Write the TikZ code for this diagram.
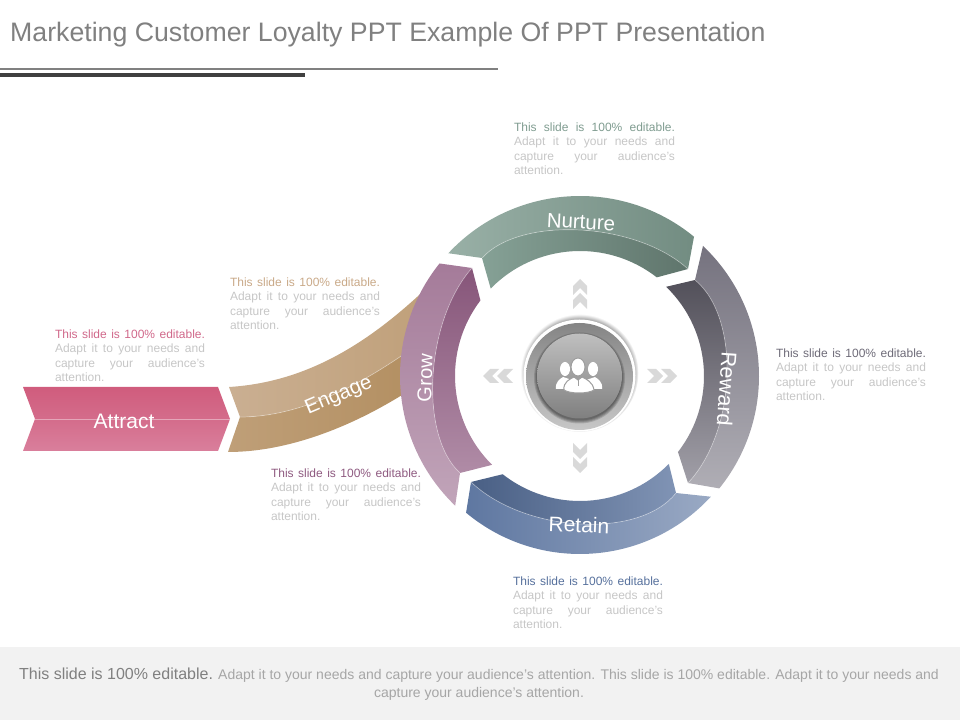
\documentclass[tikz,border=0pt]{standalone}
\usepackage{fontspec}
\setmainfont{Liberation Sans}
\usepackage{tikz}

\definecolor{titlegray}{HTML}{808080}
\definecolor{notegray}{HTML}{C6C6C6}
\definecolor{attractink}{HTML}{D0688A}
\definecolor{engageink}{HTML}{C9A988}
\definecolor{growink}{HTML}{8E5A80}
\definecolor{retainink}{HTML}{56709C}
\definecolor{rewardink}{HTML}{6E6B78}
\definecolor{nurtureink}{HTML}{7F9C90}
\definecolor{attracttop}{HTML}{D05C7D}
\definecolor{attractmid}{HTML}{D46C8B}
\definecolor{attractlow}{HTML}{D97F9C}
\definecolor{engagelight}{HTML}{CAAF92}
\definecolor{engagetan}{HTML}{BF9F78}
\definecolor{engagedark}{HTML}{B28E60}

\pgfdeclareradialshading{halo}{\pgfpoint{0bp}{0bp}}{color(0bp)=(black!55); color(21.5bp)=(black!55); color(25bp)=(white); color(50bp)=(white)}

\newcommand{\slidenote}[1]{{\color{#1}This slide is 100\% editable.} Adapt it to your needs and capture your audience's attention.}

\hyphenpenalty=10000
\tolerance=9999

\begin{document}
\begin{tikzpicture}[x=1pt, y=1pt,
                    note node/.style={inner sep=0pt, text width=150pt, align=justify, text=notegray, font=\fontsize{12}{14.5}\selectfont},
                    step label/.style={inner sep=0pt, text=white, font=\fontsize{20.5}{24}\selectfont},
                    seam line/.style={draw=white, draw opacity=0.4, line width=0.7pt}]

  \useasboundingbox (0,0) rectangle (960,720);

  \node[inner sep=0pt, anchor=base west, text=titlegray, font=\fontsize{26.7}{32}\selectfont] (title) at (10,678) {Marketing Customer Loyalty PPT Example Of PPT Presentation};
  \fill[titlegray] (0,650) rectangle (498,652);
  \fill[black!75] (0,643) rectangle (305,647);

  \fill[black!5] (0,0) rectangle (960,73);
  \node[inner sep=0pt, align=center, text=black!35, font=\fontsize{14}{18}\selectfont] (footer) at (479,36)
    {{\fontsize{16}{18}\selectfont\color{titlegray}This slide is 100\% editable.} Adapt it to your needs and capture your audience's attention. This slide is 100\% editable. Adapt it to your needs and\\capture your audience's attention.};

  % attract
  \path[top color=attracttop, bottom color=attractmid] (23,333) -- (218,333) -- (230,301) -- (35,301) -- cycle;
  \path[top color=attractmid, bottom color=attractlow] (35,301) -- (230,301) -- (218,269) -- (23,269) -- cycle;
  \draw[seam line] (35,301) -- (230,301);
  \node[step label, font=\fontsize{21}{24}\selectfont] (attract) at (124,299) {Attract};

  % engage
  \path[left color=engagelight, right color=engagetan] (229,333) .. controls (310,338) and (375,380) .. (440,445) -- (430,385) .. controls (365,335) and (300,303) .. (240,303) -- cycle;
  \path[left color=engagetan, right color=engagedark] (240,303) .. controls (300,303) and (365,335) .. (430,385) -- (425,340) .. controls (360,295) and (290,268) .. (228,268) -- cycle;
  \draw[seam line] (240,303) .. controls (300,303) and (365,335) .. (430,385);
  \node[step label, rotate=23] (engage) at (339,324) {Engage};

  \begin{scope}[shift={(580,344)}]
    % nurture
    \path[left color=nurtureink!80!white, right color=nurtureink!90!black] (137:180) arc[start angle=137, end angle=50.7, radius=180] -- (108,107) .. controls (56,154.1) and (-59.4,160.3) .. (-98,118) -- cycle;
    \path[left color=nurtureink!95!white, right color=nurtureink!75!black] (-98,118) .. controls (-59.4,160.3) and (56,154.1) .. (108,107) -- (52.1:125) arc[start angle=52.1, end angle=135.6, radius=125] -- cycle;
    \draw[seam line] (-98,118) .. controls (-59.4,160.3) and (56,154.1) .. (108,107);

    % reward
    \path[top color=rewardink!95!white, bottom color=rewardink!55!white] (46.6:179) arc[start angle=46.6, end angle=-38.9, radius=179] -- (108,-107) .. controls (156.8,-55) and (160.8,58.6) .. (115,96) -- cycle;
    \path[top color=rewardink!75!black, bottom color=rewardink!65!white] (115,96) .. controls (160.8,58.6) and (156.8,-55) .. (108,-107) -- (-37.8:124) arc[start angle=-37.8, end angle=46, radius=124] -- cycle;
    \draw[seam line] (115,96) .. controls (160.8,58.6) and (156.8,-55) .. (108,-107);

    % retain
    \path[left color=retainink!95!white, right color=retainink!60!white] (-42.7:178) arc[start angle=-42.7, end angle=-129.8, radius=178] -- (-109,-106) .. controls (-55.2,-157.1) and (59.6,-163.3) .. (96,-117) -- cycle;
    \path[left color=retainink!85!black, right color=retainink!75!white] (96,-117) .. controls (59.6,-163.3) and (-55.2,-157.1) .. (-109,-106) -- (-128.2:125) arc[start angle=-128.2, end angle=-44.7, radius=125] -- cycle;
    \draw[seam line] (96,-117) .. controls (59.6,-163.3) and (-55.2,-157.1) .. (-109,-106);

    % grow
    \path[top color=growink!80!white, bottom color=growink!55!white] (141.3:180) arc[start angle=141.3, end angle=226.1, radius=180] -- (-120,-97) .. controls (-161.4,-59.2) and (-154.6,55.6) .. (-108,108) -- cycle;
    \path[top color=growink!95!black, bottom color=growink!70!white] (-108,108) .. controls (-154.6,55.6) and (-161.4,-59.2) .. (-120,-97) -- (225.3:125) arc[start angle=225.3, end angle=142.8, radius=125] -- cycle;
    \draw[seam line] (-108,108) .. controls (-154.6,55.6) and (-161.4,-59.2) .. (-120,-97);

    \foreach \ang in {0,90,180,270}
      \foreach \off in {0,14}
        \fill[black!15, rotate=\ang, xshift=\off] (67,7) -- (76,7) -- (83,0) -- (76,-7) -- (67,-7) -- (74,0) -- cycle;
  \end{scope}

  \node[step label, rotate=-3] (nurture) at (581,498) {Nurture};
  \node[step label, rotate=-94, font=\fontsize{21.5}{24}\selectfont] (reward) at (727,331) {Reward};
  \node[step label, font=\fontsize{21}{24}\selectfont, rotate=-2] (retain) at (579,195) {Retain};
  \node[step label, rotate=88, font=\fontsize{20}{24}\selectfont] (grow) at (425,342) {Grow};

  % hub
  \shade[shading=halo] (579.5,347) circle (59);
  \fill[white] (579.5,344.5) circle (56);
  \path[top color=black!48, bottom color=black!22] (579.5,343.5) circle (53.5);
  \foreach \rad in {42.5,43.5,44.5,45.5}
    \fill[black, opacity=0.14] (579.5,342) circle (\rad);
  \path[top color=black!25, bottom color=black!50] (579.5,344) circle (42.5);

  \fill[white] (565,351) ellipse (5 and 7);
  \fill[white] (593,351) ellipse (5 and 7);
  \fill[white] (556,331) .. controls (555,338) and (560,341) .. (563,343) -- (572,340) -- (572,331) -- cycle;
  \fill[white] (602,331) .. controls (603,338) and (598,341) .. (595,343) -- (586,340) -- (586,331) -- cycle;
  \fill[white, draw=black!38, line width=1pt] (564,330) .. controls (563,338) and (570,341) .. (574,343) -- (578,340) -- (582,343) .. controls (586,341) and (593,338) .. (594,330) .. controls (588,326) and (570,326) .. (564,330) -- cycle;
  \fill[white, draw=black!38, line width=1pt] (578,353) ellipse (7 and 9);
  \draw[black!38, line width=0.8pt] (578,340) -- (578,334);

  % notes
  \node[note node] (attractnote) at (130,364.5) {\slidenote{attractink}};
  \node[note node] (engagenote) at (305,416.5) {\slidenote{engageink}};
  \node[note node] (grownote) at (346,225.5) {\slidenote{growink}};
  \node[note node] (retainnote) at (588,117.5) {\slidenote{retainink}};
  \node[note node] (rewardnote) at (851,345.5) {\slidenote{rewardink}};
  \node[note node, text width=161pt] (nurturenote) at (594.5,571.5) {\slidenote{nurtureink}};
\end{tikzpicture}
\end{document}
